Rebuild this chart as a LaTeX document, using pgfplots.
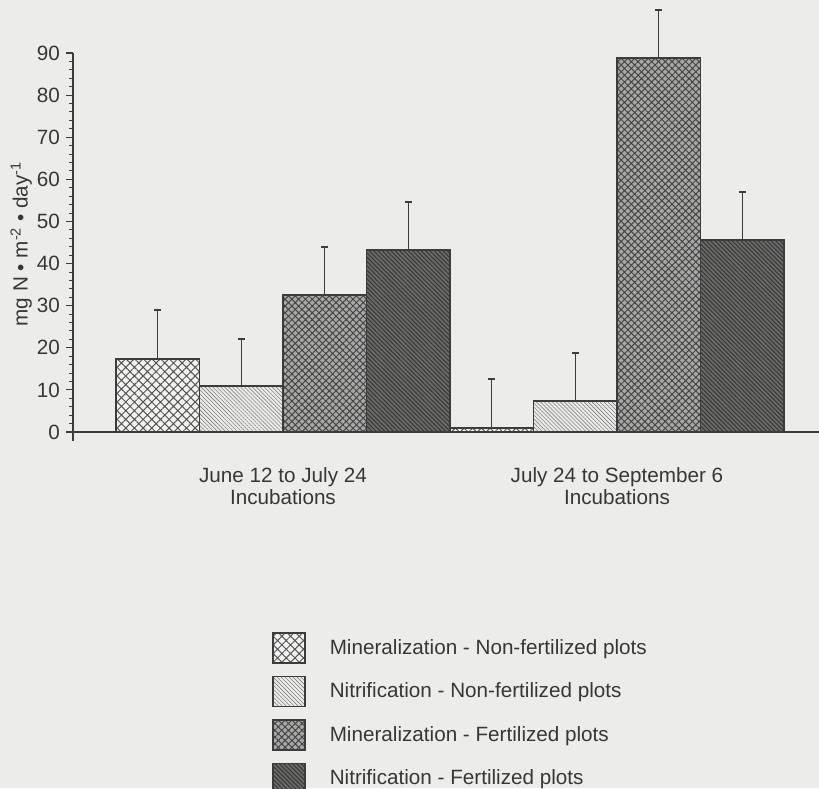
\documentclass[border=0pt]{standalone}
\usepackage{fontspec}
\setmainfont{Liberation Sans}
\usepackage{pgfplots}
\pgfplotsset{compat=1.18}
\usetikzlibrary{patterns.meta,backgrounds}
\definecolor{bg}{RGB}{236,236,234}
\definecolor{txt}{RGB}{55,55,55}
\definecolor{edge}{RGB}{60,60,60}
\definecolor{fA}{RGB}{242,242,240}
\definecolor{hA}{RGB}{85,85,85}
\definecolor{fB}{RGB}{236,236,234}
\definecolor{hB}{RGB}{130,130,130}
\definecolor{fC}{RGB}{168,168,166}
\definecolor{hC}{RGB}{70,70,70}
\definecolor{fD}{RGB}{108,108,106}
\definecolor{hD}{RGB}{55,55,55}
\begin{document}
\begin{tikzpicture}
\begin{axis}[name=ax, scale only axis, width=559.5pt, height=284.25pt,
  xmin=0.3713, xmax=2.6048, ymin=0, ymax=90, clip=false,
  axis x line*=bottom, axis y line*=left,
  axis line style={edge, line width=1.1pt},
  y axis line style={shorten <=-6.5pt},
  ybar, bar width=0.25, bar shift=0pt,
  ytick={0,10,...,90}, minor y tick num=4,
  tick align=outside,
  major tick length=5.25pt, minor tick length=3pt,
  ytick style={edge, line width=0.9pt},
  minor y tick style={edge, line width=0.7pt},
  /pgf/number format/assume math mode=true,
  yticklabel style={font=\fontsize{15.5}{17}\selectfont, text=txt, xshift=-1pt},
  xtick={1,2},
  xticklabels={{June 12 to July 24\\Incubations},{July 24 to September 6\\Incubations}},
  xticklabel style={align=center, font=\fontsize{15.5}{16.5}\selectfont, text=txt, yshift=-17.5pt},
  xtick style={draw=none},
  ylabel={mg N • m\textsuperscript{-2} • day\textsuperscript{-1}},
  ylabel style={at={(axis description cs:-0.0695,0.496)}, anchor=center, font=\fontsize{15.5}{17}\selectfont, text=txt},
  error bars/y dir=plus, error bars/y explicit,
  error bars/error bar style={edge, line width=1.1pt},
  error bars/error mark options={rotate=90, edge, line width=1.2pt, mark size=2.6pt},
  legend image code/.code={\draw[#1] (0pt,-11.25pt) rectangle (24pt,11.25pt);},
  legend style={at={(rel axis cs:0.2668,-0.5277)}, anchor=north west, draw=none, fill=none,
    font=\fontsize{15.5}{17}\selectfont, text=txt, row sep=9pt, inner sep=0pt,
    nodes={inner sep=0pt, anchor=west}, column sep=0pt},
  legend cell align=left,
]
\addplot[draw=edge, line width=1.1pt, fill=fA,
  postaction={pattern={Hatch[angle=45,distance=4.6pt,line width=0.75pt]}, pattern color=hA}]
  coordinates {(0.625,17.3) +- (0,11.7) (1.625,1.0) +- (0,11.6)};
\addlegendentry{\hspace{18pt}Mineralization - Non-fertilized plots}
\addplot[draw=edge, line width=1.1pt, fill=fB,
  postaction={pattern={Lines[angle=-45,distance=2.1pt,line width=0.45pt]}, pattern color=hB}]
  coordinates {(0.875,10.9) +- (0,11.2) (1.875,7.4) +- (0,11.4)};
\addlegendentry{\hspace{18pt}Nitrification - Non-fertilized plots}
\addplot[draw=edge, line width=1.1pt, fill=fC,
  postaction={pattern={Hatch[angle=45,distance=3.6pt,line width=0.75pt]}, pattern color=hC}]
  coordinates {(1.125,32.5) +- (0,11.4) (2.125,88.8) +- (0,11.4)};
\addlegendentry{\hspace{18pt}Mineralization - Fertilized plots}
\addplot[draw=edge, line width=1.1pt, fill=fD,
  postaction={pattern={Lines[angle=-45,distance=2.3pt,line width=0.8pt]}, pattern color=hD}]
  coordinates {(1.375,43.2) +- (0,11.4) (2.375,45.6) +- (0,11.4)};
\addlegendentry{\hspace{18pt}Nitrification - Fertilized plots}
\end{axis}
\begin{scope}[on background layer]
\fill[bg] ([xshift=-54.75pt,yshift=-267pt]ax.south west) rectangle ([yshift=39.75pt]ax.north east);
\end{scope}
\pgfresetboundingbox
\path[use as bounding box] ([xshift=-54.75pt,yshift=-267pt]ax.south west) rectangle ([yshift=39.75pt]ax.north east);
\end{tikzpicture}
\end{document}
